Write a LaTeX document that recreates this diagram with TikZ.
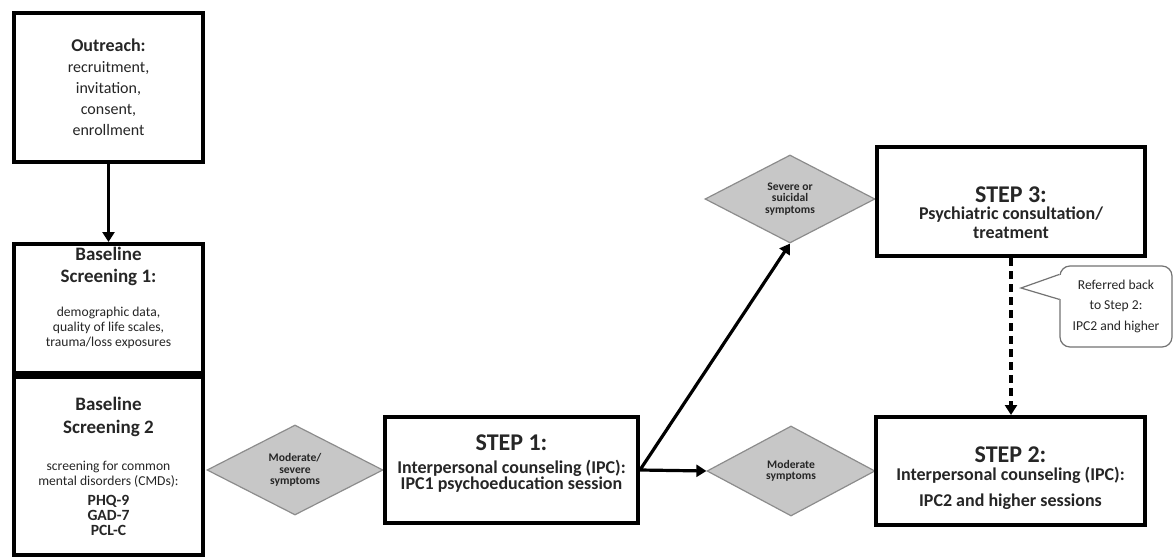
\documentclass[tikz,border=0pt]{standalone}
\usepackage{fontspec}
\setmainfont{Carlito}
\usetikzlibrary{arrows.meta,calc,shapes.geometric}

\newcommand{\hd}[1]{{\fontsize{9.5}{11}\selectfont\bfseries #1}}
\newcommand{\stp}[1]{{\fontsize{12}{13}\selectfont\bfseries #1}}
\newcommand{\sub}[1]{{\fontsize{9}{10}\selectfont\bfseries #1}}
\newcommand{\lst}[1]{{\fontsize{7.8}{7.5}\selectfont\bfseries #1}}

\begin{document}
\begin{tikzpicture}[x=0.5pt, y=-0.5pt,
    every node/.style={text=black!85, align=center, inner sep=0pt},
    box/.style={draw=black, line width=2pt, fill=white},
    small/.style={font=\fontsize{6.8}{7.5}\selectfont},
    cond/.style={diamond, aspect=2, draw=black!45, fill=black!22, line width=0.6pt,
      font=\fontsize{5.8}{5.8}\selectfont\bfseries},
    flow/.style={line width=1.6pt, -{Triangle[length=5pt,width=6pt]}}]
  \useasboundingbox (0,0) rectangle (1173,557);
  \fill[white] (0,0) rectangle (1173,557);

  % screening column
  \node[box, minimum width=94.5pt, minimum height=74.5pt,
    font=\fontsize{8}{10.5}\selectfont] (outreach) at (108.5,87.5)
    {{\fontsize{9}{10.5}\selectfont\bfseries Outreach:}\\ recruitment,\\ invitation,\\ consent,\\ enrollment};
  \node[box, small, minimum width=94.5pt, minimum height=64.5pt] (base1) at (108.5,308.5)
    {\hd{Baseline}\\[3.5pt] \hd{Screening 1:}\\[9.5pt] demographic data,\\ quality of life scales,\\ trauma/loss exposures\\[4.5pt]};
  \node[box, small, minimum width=94.5pt, minimum height=89pt] (base2) at (108.5,466)
    {\hd{Baseline}\\[4pt] \hd{Screening 2}\\[11pt] screening for common\\ mental disorders (CMDs):\\[2.5pt]
     \lst{PHQ-9}\\ \lst{GAD-7}\\ \lst{PCL-C}};

  % steps
  \node[cond, minimum width=88pt, minimum height=45pt] (modsev) at (295,470)
    {Moderate/\\ severe\\ symptoms};
  \node[box, minimum width=126.5pt, minimum height=53pt, font=\fontsize{9}{8}\selectfont] (step1) at (511.5,470)
    {\stp{STEP 1:}\\[3.5pt] \sub{Interpersonal counseling (IPC):}\\ \sub{IPC1 psychoeducation session}\\};
  \node[cond, minimum width=85pt, minimum height=44pt] (severe) at (790,199)
    {Severe or\\ suicidal\\ symptoms};
  \node[box, minimum width=134pt, minimum height=54.5pt, font=\fontsize{9}{9}\selectfont] (step3) at (1011,201.5)
    {{}\\[10pt] \stp{STEP 3:}\\[-0.5pt] \sub{Psychiatric consultation/}\\[0.5pt] \sub{treatment}};
  \node[cond, minimum width=84pt, minimum height=45pt] (moderate) at (791,471)
    {Moderate\\ symptoms};
  \node[box, minimum width=134.5pt, minimum height=54pt, font=\fontsize{9}{10}\selectfont] (step2) at (1010.5,471)
    {{}\\[5.5pt] \stp{STEP 2:}\\[-1pt] \sub{Interpersonal counseling (IPC):}\\[3pt] \sub{IPC2 and higher sessions}};

  % referral note
  \node[draw=black!55, line width=0.6pt, rounded corners=5pt, fill=white,
    minimum width=56pt, minimum height=40.5pt, font=\fontsize{6.8}{9.8}\selectfont]
    (back) at (1116,306.5) {Referred back\\ to Step 2:\\[1pt] IPC2 and higher};
  \coordinate (tip) at (1021,288);
  \fill[white] ($(back.north west)+(1.5pt,9)$) -- (tip) -- ($(back.north west)+(1.5pt,34)$) -- cycle;
  \draw[black!55, line width=0.6pt] ($(back.north west)+(0,9)$) -- (tip) -- ($(back.north west)+(0,34)$);

  \draw[flow] (outreach) -- (base1);
  \draw[flow] (step1.east) -- (moderate.west);
  \draw[flow] (step1.east) -- (severe.south);
  \draw[flow, dash pattern=on 4pt off 2.5pt] (step3.south) -- (step3.south |- step2.north);
\end{tikzpicture}
\end{document}
